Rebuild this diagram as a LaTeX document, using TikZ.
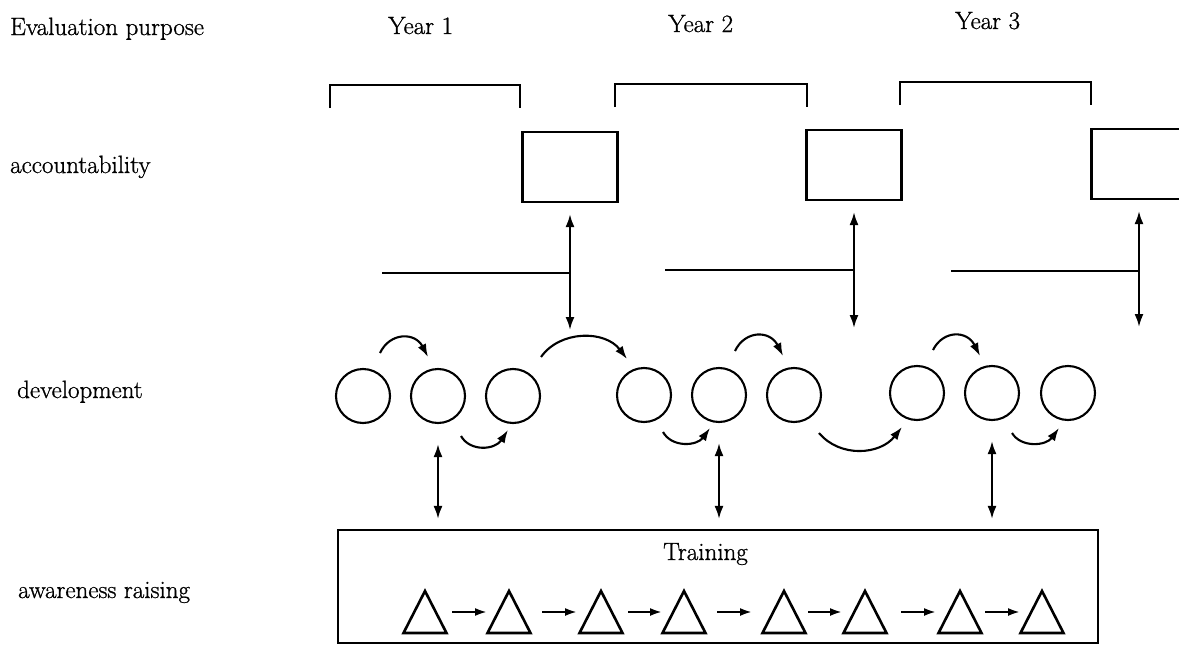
\documentclass[tikz,border=0pt]{standalone}
\usepackage{fontspec}
\setmainfont{Latin Modern Roman}[FakeBold=0.9]
\usetikzlibrary{arrows.meta,calc}
\begin{document}
\begin{tikzpicture}[x=1pt,y=-1pt,
  lbl/.style={anchor=base west,inner sep=0pt,font=\fontsize{25}{30}\selectfont},
  frame/.style={line width=2.1pt},
  yearbox/.style={draw,line width=2.1pt,minimum width=95pt,minimum height=70pt,inner sep=0pt},
  stage/.style={draw,circle,line width=2.1pt,minimum size=54pt,inner sep=0pt},
  link/.style={line width=2.1pt},
  dlink/.style={line width=2.1pt,{Latex[length=13pt,width=9pt]}-{Latex[length=13pt,width=9pt]}},
  flow/.style={line width=2.1pt,-{Latex[length=13pt,width=9pt]}},
  tri/.style={line width=2.6pt,line join=miter},
  tflow/.style={line width=2.2pt,-{Latex[length=12pt,width=8pt]}},
]
\useasboundingbox (0,0) rectangle (1179,645);

% row labels and year headings
\node[lbl] (purpose) at (10,35) {Evaluation purpose};
\node[lbl] (y1) at (388,34) {Year 1};
\node[lbl] (y2) at (668,32) {Year 2};
\node[lbl] (y3) at (955,29) {Year 3};
\node[lbl] (acc) at (10,173) {accountability};
\node[lbl] (dev) at (17,398) {development};
\node[lbl] (aware) at (18,598) {awareness raising};

% year brackets
\draw[frame] (330,108) |- (520,85) -- (520,108);
\draw[frame] (615,107) |- (807,84) -- (807,107);
\draw[frame] (900,105) |- (1091,82) -- (1091,105);

% accountability boxes
\node[yearbox] (b1) at (570,167) {};
\node[yearbox] (b2) at (854,165) {};
\node[yearbox] (b3) at (1139,164) {};

% T-junctions with double arrows
\coordinate (h1) at (382,273);
\coordinate (h2) at (665,270);
\coordinate (h3) at (951,271);
\coordinate (e1) at (570,330);
\coordinate (e2) at (854,328);
\coordinate (e3) at (1139,327);
\draw[dlink,shorten <=11pt] (b1.south) -- (e1);
\draw[dlink,shorten <=11pt] (b2.south) -- (e2);
\draw[dlink,shorten <=11pt] (b3.south) -- (e3);
\draw[link] (h1) -- (h1 -| b1.south);
\draw[link] (h2) -- (h2 -| b2.south);
\draw[link] (h3) -- (h3 -| b3.south);

% development cycles
\node[stage] (A1) at (363,396) {};
\node[stage] (A2) at (438,396) {};
\node[stage] (A3) at (513,396) {};
\node[stage] (B1) at (644,395) {};
\node[stage] (B2) at (719,395) {};
\node[stage] (B3) at (794,395) {};
\node[stage] (C1) at (917,393) {};
\node[stage] (C2) at (992,393) {};
\node[stage] (C3) at (1068,393) {};

\draw[flow] ([shift={(17,-43)}]A1.center) .. controls +(10,-21) and +(-13,-25) .. ([shift={(-10,-39)}]A2.center);
\draw[flow] ([shift={(23,40)}]A2.center) .. controls +(9,16) and +(-13,20) .. ([shift={(-5,34)}]A3.center);
\draw[flow] ([shift={(28,-39)}]A3.center) .. controls +(19,-27) and +(-22,-29) .. ([shift={(-17,-36)}]B1.center);
\draw[flow] ([shift={(19,37)}]B1.center) .. controls +(9,16) and +(-13,18) .. ([shift={(-9,33)}]B2.center);
\draw[flow] ([shift={(16,-44)}]B2.center) .. controls +(10,-21) and +(-13,-26) .. ([shift={(-11,-39)}]B3.center);
\draw[flow] ([shift={(25,38)}]B3.center) .. controls +(21,25) and +(-22,28) .. ([shift={(-15,34)}]C1.center);
\draw[flow] ([shift={(16,-43)}]C1.center) .. controls +(10,-20) and +(-13,-26) .. ([shift={(-12,-37)}]C2.center);
\draw[flow] ([shift={(20,40)}]C2.center) .. controls +(9,15) and +(-13,18) .. ([shift={(-9,35)}]C3.center);

% training block
\node[draw,line width=2.1pt,minimum width=760pt,minimum height=113pt,inner sep=0pt] (train) at (718,586.5) {};
\node[lbl] (trainlbl) at (663,560) {Training};

\draw[dlink,shorten <=20pt,shorten >=10pt] (A2.south) -- (A2.south |- train.north);
\draw[dlink,shorten <=20pt,shorten >=10pt] (B2.south) -- (B2.south |- train.north);
\draw[dlink,shorten <=20pt,shorten >=10pt] (C2.south) -- (C2.south |- train.north);

% training steps
\coordinate (t1) at (425,612);
\coordinate (t2) at (509,612);
\coordinate (t3) at (601,612);
\coordinate (t4) at (684,612);
\coordinate (t5) at (784,612);
\coordinate (t6) at (865,612);
\coordinate (t7) at (960,612);
\coordinate (t8) at (1042,612);
\foreach \i in {1,...,8}
  \draw[tri] ($(t\i)+(-21.5,21)$) -- ($(t\i)+(0,-21)$) -- ($(t\i)+(21.5,21)$) -- cycle;
\draw[tflow,shorten <=27pt,shorten >=22pt] (t1) -- (t2);
\draw[tflow,shorten <=33pt,shorten >=24pt] (t2) -- (t3);
\draw[tflow,shorten <=27pt,shorten >=22pt] (t3) -- (t4);
\draw[tflow,shorten <=33pt,shorten >=32pt] (t4) -- (t5);
\draw[tflow,shorten <=24pt,shorten >=23pt] (t5) -- (t6);
\draw[tflow,shorten <=36pt,shorten >=24pt] (t6) -- (t7);
\draw[tflow,shorten <=25pt,shorten >=22pt] (t7) -- (t8);
\end{tikzpicture}
\end{document}
